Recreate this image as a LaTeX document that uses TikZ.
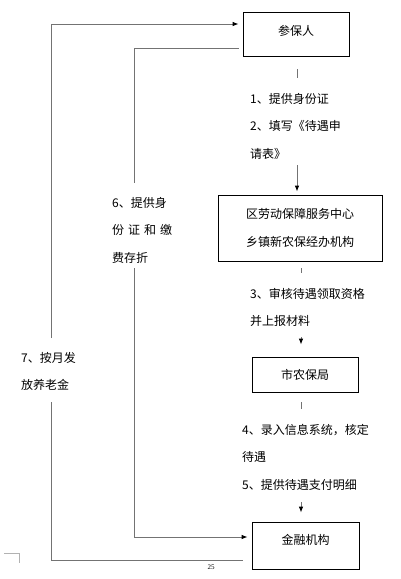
\documentclass[tikz,border=0pt]{standalone}
\usepackage{fontspec}
\setmainfont{Noto Sans CJK SC}
\newfontfamily\pagefont{Liberation Serif}
\usetikzlibrary{arrows.meta,positioning,calc}
\tikzset{
  stage/.style={draw=black, line width=0.8pt, inner sep=0pt, align=center,
                font=\fontsize{12}{28}\selectfont},
  flow/.style={draw=black!55, line width=0.8pt},
  flowarrow/.style={flow, -{Latex[length=6pt,width=4.5pt,color=black]}},
  note/.style={anchor=base west, inner sep=0pt, align=left,
               font=\fontsize{12}{27.5}\selectfont},
}

\begin{document}
\begin{tikzpicture}[x=1pt,y=-1pt]
    \useasboundingbox (0,0) rectangle (400,579);
    % the four offices
    \node[stage, minimum width=106pt, minimum height=44pt, text depth=7pt] (canbao) at (296,34) {参保人};
    \node[stage, minimum width=164pt, minimum height=66pt] (quzx) at (300,228) {区劳动保障服务中心\\乡镇新农保经办机构};
    \node[stage, minimum width=106pt, minimum height=35pt] (shinong) at (305,374.5) {市农保局};
    \node[stage, minimum width=107pt, minimum height=47pt, text depth=13pt] (jinrong) at (305.5,545.5) {金融机构};

    % step texts (placed by their last line)
    \node[note] (step12) at (250,158) {1、提供身份证\\2、填写《待遇申\\请表》};
    \node[note, font=\fontsize{12}{27}\selectfont] (step3) at (250,325) {3、审核待遇领取资格\\并上报材料};
    \node[note] (step45) at (242,489) {4、录入信息系统，核定\\待遇\\5、提供待遇支付明细};
    \node[note] (step6) at (112,262) {6、提供身\\\hbox to 60pt{份\hfil 证\hfil 和\hfil 缴}\\费存折};
    \node[note, font=\fontsize{12}{27}\selectfont] (step7) at (21,389) {7、按月发\\放养老金};

    % main chain, broken round the texts
    \coordinate (t1) at (297,69);
    \coordinate (a1) at (297,165);
    \draw[flow] (t1) -- ++(0,9);
    \draw[flowarrow, shorten >=3pt] (a1) -- (a1 |- quzx.north);
    \coordinate (t2) at (301,268);
    \coordinate (a2) at (301,337);
    \draw[flow] (t2) -- ++(0,5);
    \draw[flowarrow, shorten >=12pt] (a2) -- (a2 |- shinong.north);
    \coordinate (t3) at (301,402);
    \coordinate (a3) at (301,502);
    \draw[flow] (t3) -- ++(0,7);
    \draw[flowarrow, shorten >=9pt] (a3) -- (a3 |- jinrong.north);

    % 6: from canbao to jinrong
    \coordinate (k6a) at (134,183);
    \coordinate (k6b) at (134,268);
    \draw[flow] ([shift={(-4pt,-14pt)}]canbao.west) -| (k6a);
    \draw[flowarrow, shorten >=4pt] (k6b) |- ([yshift=8.5pt]jinrong.west);

    % 7: from jinrong back to canbao
    \coordinate (k7a) at (51,402);
    \coordinate (k7b) at (51,338);
    \draw[flow] ([shift={(-9pt,-14.5pt)}]jinrong.west) -| (k7a);
    \draw[flowarrow, shorten >=4pt] (k7b) |- ([yshift=10pt]canbao.west);

    % page marks
    \draw[black!30, line width=0.6pt] (4,553) -| (19,563);
    \node[inner sep=0pt, font=\pagefont\fontsize{7}{8}\selectfont] (pageno) at (211,567) {25};
\end{tikzpicture}
\end{document}
